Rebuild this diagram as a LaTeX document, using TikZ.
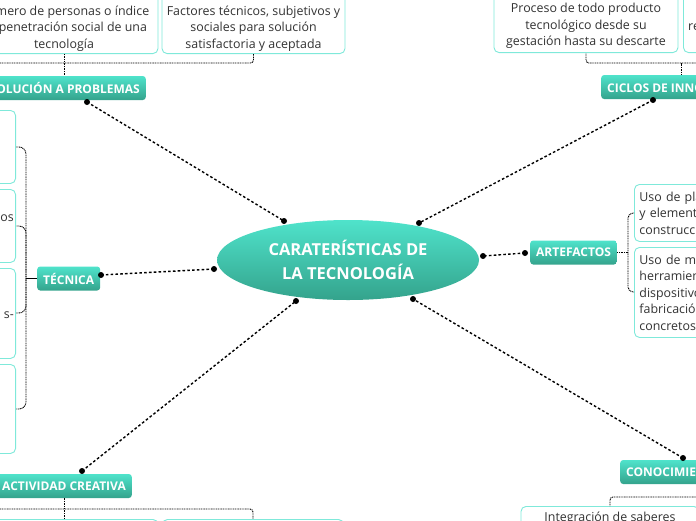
\documentclass[tikz,border=0pt]{standalone}
\usepackage{fontspec}
\setmainfont{Open Sans}
\usetikzlibrary{shapes.geometric}
\definecolor{tealtop}{HTML}{4FE3CB}
\definecolor{tealbot}{HTML}{34A38C}
\definecolor{subline}{HTML}{7FE9DA}
\definecolor{txt}{HTML}{333333}
\begin{document}
\begin{tikzpicture}[x=1pt,y=-1pt,
 topic/.style={rounded corners=3pt, top color=tealtop, bottom color=tealbot, draw=none, text=white, font=\bfseries\fontsize{12}{14}\selectfont, inner xsep=6pt, inner ysep=0pt, minimum height=24pt},
 sub/.style={draw=subline, line width=0.9pt, rounded corners=5pt, fill=white, align=center, text=txt, font=\fontsize{12.4}{16.5}\selectfont, inner sep=0pt},
 frag/.style={text=txt, align=center, font=\fontsize{12.4}{16.5}\selectfont, inner sep=0pt},
 link/.style={line width=1.4pt, dash pattern=on 2.6pt off 2.2pt},
 fine/.style={line width=0.9pt, dash pattern=on 1pt off 0.7pt},
 knob/.style={fill=black}]
\useasboundingbox (0,0) rectangle (696,520);
\clip (0,0) rectangle (696,520);

% centre
\node[ellipse, minimum width=262pt, minimum height=80pt, top color=tealtop, bottom color=tealbot, text=white, align=center, font=\bfseries\fontsize{16.5}{23.5}\selectfont] (c) at (348,260) {CARATERÍSTICAS DE\\LA TECNOLOGÍA};

% topics
\node[topic, anchor=east] (sol) at (146,88) {SOLUCIÓN A PROBLEMAS};
\node[topic, anchor=west] (cic) at (601,87) {CICLOS DE INNOVACIÓN};
\node[topic, anchor=west] (tec) at (37,278.5) {TÉCNICA};
\node[topic, anchor=west] (art) at (530,252.5) {ARTEFACTOS};
\node[topic, anchor=east] (act) at (132,486) {ACTIVIDAD CREATIVA};
\node[topic, anchor=west] (con) at (620,472) {CONOCIMIENTOS};

% top boxes
\node[sub, anchor=south, minimum width=188pt, minimum height=62pt] (s1) at (64,54) {};
\node[frag] (s1t) at (64,28.5) {Número de personas o índice\\de penetración social de una\\tecnología};
\node[sub, anchor=south, minimum width=183pt, minimum height=62pt] (s2) at (253.5,54) {};
\node[frag] (s2t) at (253.5,28.5) {Factores técnicos, subjetivos y\\sociales para solución\\satisfactoria y aceptada};
\node[sub, anchor=south, minimum width=184pt, minimum height=62pt] (r1) at (586,53) {};
\node[frag] (r1t) at (586,26) {Proceso de todo producto\\tecnológico desde su\\gestación hasta su descarte};
\node[sub, anchor=south west, minimum width=184pt, minimum height=62pt] (r2) at (683,53) {};
\node[frag, anchor=west] (r2t) at (688,27) {re};

% left column (TÉCNICA)
\node[sub, anchor=north east, minimum width=170pt, minimum height=73pt] (t1) at (16,110) {};
\node[sub, anchor=north east, minimum width=170pt, minimum height=73pt] (t2) at (16,189) {};
\node[sub, anchor=north east, minimum width=170pt, minimum height=90pt] (t3) at (16,268) {};
\node[sub, anchor=north east, minimum width=170pt, minimum height=89pt] (t4) at (16,364) {};
\node[frag, anchor=east] (t2f) at (14,218) {os};
\node[frag, anchor=east] (t3f) at (14,315) {s-};

% right column (ARTEFACTOS)
\node[sub, anchor=north west, align=left, text width=170pt, inner xsep=5pt, minimum height=57pt] (a1) at (634,184) {Uso de planos\\y elementos de\\construcción};
\node[sub, anchor=north west, align=left, text width=170pt, inner xsep=5pt, minimum height=90pt] (a2) at (634,247) {Uso de máquinas,\\herramientas y\\dispositivos para la\\fabricación de objetos\\concretos};

% bottom boxes
\node[sub, anchor=north, minimum width=188pt, minimum height=60pt] (b1) at (64,519) {};
\node[sub, anchor=north, minimum width=181pt, minimum height=60pt] (b2) at (253,519) {};
\node[sub, anchor=north, minimum width=178pt, minimum height=60pt] (k1) at (610,506) {};
\node[frag] (k1t) at (610,518) {Integración de saberes};

% branch connectors
\coordinate (hs) at (-10,63);
\draw[fine] (s1.south) -- (s1.south |- sol.north);
\draw[fine, rounded corners=3pt] (hs) -| (s2.south);
\coordinate (hc) at (710,63);
\draw[fine] (cic.north west) ++(80,0) -- ++(0,-12);
\draw[fine, rounded corners=3pt] (hc) -| (r1.south);
\coordinate (ha) at (-10,509);
\draw[fine] (b1.north) -- (b1.north |- act.south);
\draw[fine, rounded corners=3pt] (ha) -| (b2.north);
\coordinate (hk) at (710,497);
\draw[fine, rounded corners=3pt] (hk) -| (k1.north);

\coordinate (tj) at (26,278.5);
\draw[line width=0.9pt] (tec.west) -- (tj);
\draw[fine, rounded corners=7pt] (tj) |- (t1.east |- 0,147);
\draw[fine, rounded corners=7pt] (tj) |- (t2.east |- 0,226);
\draw[fine, rounded corners=7pt] (tj) |- (t3.east |- 0,313);
\draw[fine, rounded corners=7pt] (tj) |- (t4.east |- 0,409);

\coordinate (aj) at (628,252.5);
\draw[fine] (art.east) -- (aj);
\draw[fine, rounded corners=5pt] (aj) |- (a1.west |- 0,213);
\draw[fine, rounded corners=5pt] (aj) |- (a2.west |- 0,292);

% links to centre
\coordinate (d1) at (87,102);  \coordinate (e1) at (284,221);
\coordinate (d2) at (653,100); \coordinate (e2) at (419,223);
\coordinate (d3) at (101,275); \coordinate (e3) at (214,269);
\coordinate (d4) at (525,253); \coordinate (e4) at (483,256);
\coordinate (d5) at (82,471);  \coordinate (e5) at (296,301);
\coordinate (d6) at (683,458); \coordinate (e6) at (413,299);
\foreach \i in {1,...,6}{
  \draw[link] (d\i) -- (e\i);
  \fill[knob] (d\i) circle (3pt);
  \fill[knob] (e\i) circle (3pt);
}
\end{tikzpicture}
\end{document}
